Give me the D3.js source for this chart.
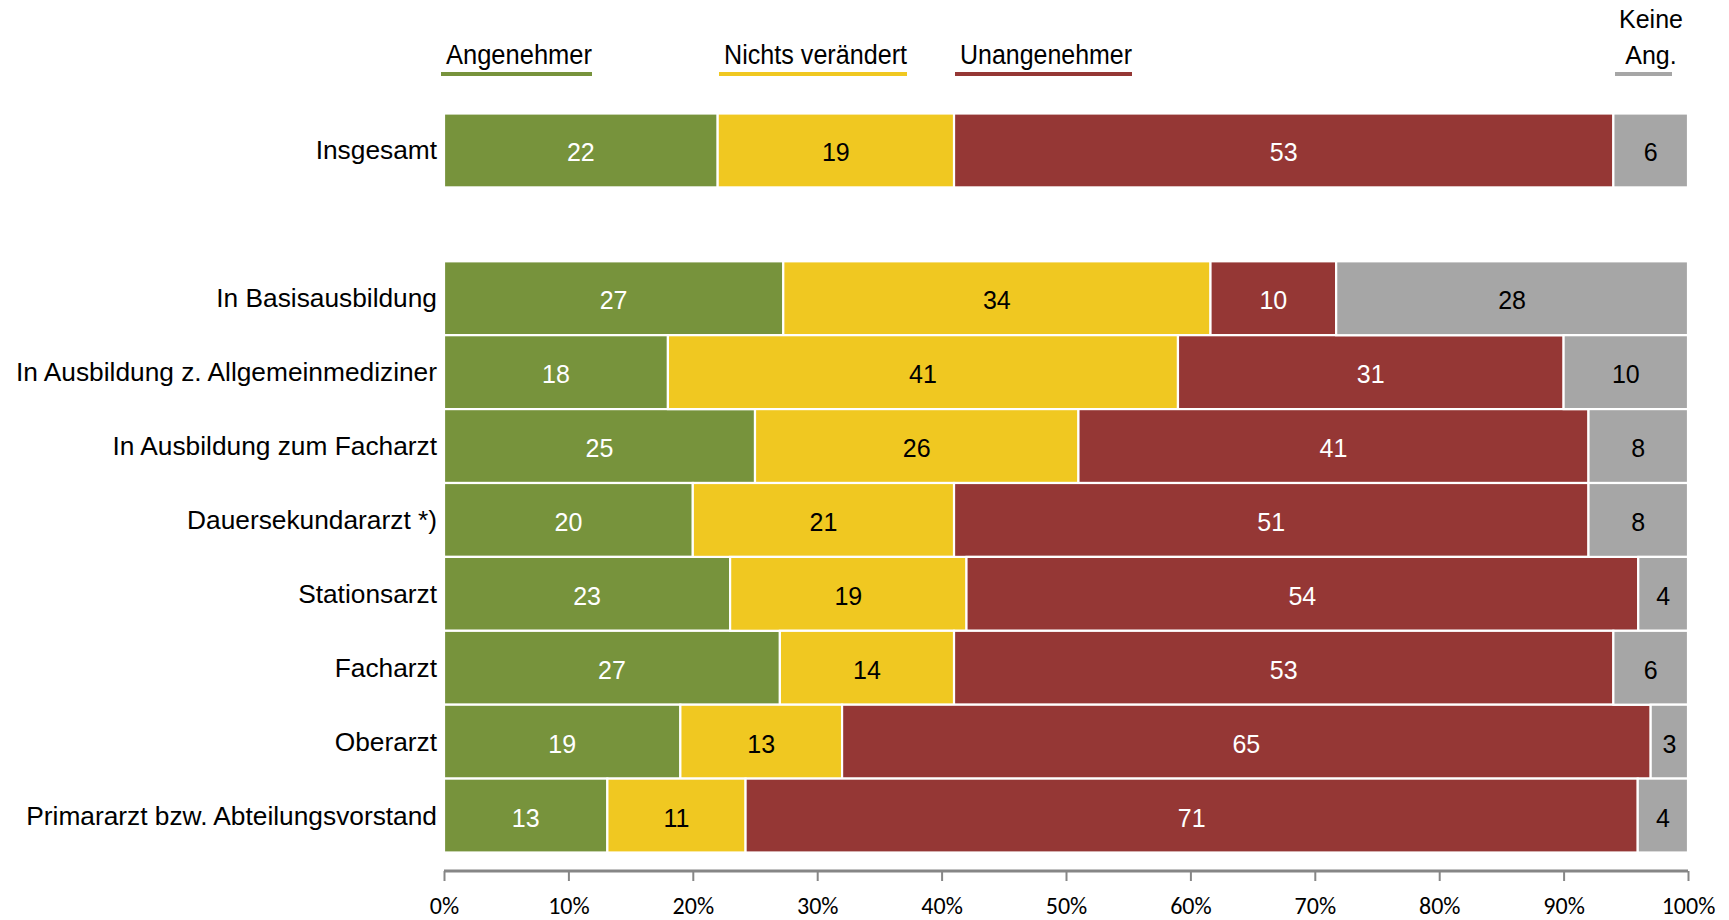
<!DOCTYPE html>
<html>
<head>
<meta charset="utf-8">
<script src="https://cdn.jsdelivr.net/npm/d3@7"></script>
<style>
	body { margin: 0; background: #fff; }
	svg { display: block; }
</style>
</head>
<body>
<div class="chart"></div>
<script>
// data (percent, each row is normalised to 100 %)
var categories = ["Insgesamt", "In Basisausbildung", "In Ausbildung z. Allgemeinmediziner",
	"In Ausbildung zum Facharzt", "Dauersekundararzt *)", "Stationsarzt", "Facharzt",
	"Oberarzt", "Primararzt bzw. Abteilungsvorstand"];
var angenehmer = [22, 27, 18, 25, 20, 23, 27, 19, 13];
var nichtsVeraendert = [19, 34, 41, 26, 21, 19, 14, 13, 11];
var unangenehmer = [53, 10, 31, 41, 51, 54, 53, 65, 71];
var keineAngabe = [6, 28, 10, 8, 8, 4, 6, 3, 4];
var seriesNames = ["Angenehmer", "Nichts verändert", "Unangenehmer", "Keine Ang."];
var xTicks = [0, 0.1, 0.2, 0.3, 0.4, 0.5, 0.6, 0.7, 0.8, 0.9, 1];

var W = 1729, H = 920;
var colors = { "Angenehmer": "#77933c", "Nichts verändert": "#f0c821", "Unangenehmer": "#953735", "Keine Ang.": "#a6a6a6" };
var labelColors = { "Angenehmer": "#fff", "Nichts verändert": "#000", "Unangenehmer": "#fff", "Keine Ang.": "#000" };

var svg = d3.select(".chart").append("svg")
	.attr("width", W)
	.attr("height", H);

var rows = categories.map(function (c, i) {
	return {
		cat: c,
		"Angenehmer": angenehmer[i],
		"Nichts verändert": nichtsVeraendert[i],
		"Unangenehmer": unangenehmer[i],
		"Keine Ang.": keineAngabe[i]
	};
});

// one empty slot between "Insgesamt" and the rest
var rowKeys = [categories[0], "__gap"].concat(categories.slice(1));

var x = d3.scaleLinear().domain([0, 1]).range([444, 1688]);
var y = d3.scaleBand().domain(rowKeys).range([113.5, 852.5]).padding(0);

var stacked = d3.stack()
	.keys(seriesNames)
	.offset(d3.stackOffsetExpand)(rows);

var layer = svg.selectAll(".layer")
	.data(stacked)
	.enter().append("g")
	.attr("class", "layer");

layer.selectAll("rect")
	.data(function (s) { return s.map(function (d) { d.key = s.key; return d; }); })
	.enter().append("rect")
	.attr("x", function (d) { return x(d[0]); })
	.attr("y", function (d) { return y(d.data.cat); })
	.attr("width", function (d) { return x(d[1]) - x(d[0]); })
	.attr("height", y.bandwidth())
	.attr("fill", function (d) { return colors[d.key]; })
	.attr("stroke", "#fff")
	.attr("stroke-width", 2.2);

layer.selectAll("text")
	.data(function (s) { return s; })
	.enter().append("text")
	.attr("x", function (d) { return (x(d[0]) + x(d[1])) / 2; })
	.attr("y", function (d) { return y(d.data.cat) + y.bandwidth() / 2 + 11; })
	.attr("text-anchor", "middle")
	.style("font-family", "'Liberation Sans', Arial, sans-serif")
	.style("font-size", "25px")
	.attr("fill", function (d) { return labelColors[d.key]; })
	.text(function (d) { return d.data[d.key]; });

// category labels
svg.append("g").selectAll("text")
	.data(categories)
	.enter().append("text")
	.attr("x", 437)
	.attr("y", function (d) { return y(d) + y.bandwidth() / 2 + 9; })
	.attr("text-anchor", "end")
	.style("font-family", "'Liberation Sans', Arial, sans-serif")
	.style("font-size", "26.3px")
	.attr("fill", "#000")
	.text(function (d) { return d; });

// x axis
var xAxis = d3.axisBottom(x)
	.tickValues(xTicks)
	.tickFormat(d3.format(".0%"))
	.tickSize(10)
	.tickPadding(16);

var gx = svg.append("g")
	.attr("class", "x axis")
	.attr("transform", "translate(0,871)")
	.call(xAxis);
gx.select(".domain").attr("stroke", "#868686").attr("stroke-width", 3).attr("d", "M444,0H1688");
gx.selectAll(".tick line").attr("stroke", "#868686").attr("stroke-width", 2);
gx.selectAll(".tick text")
	.style("font-family", "Carlito, Lato, 'Open Sans', sans-serif")
	.style("font-size", "24px")
	.attr("fill", "#000");

// legend: label with a coloured underline
var legendItems = [
	{ name: "Angenehmer", x0: 441, x1: 592, lines: ["Angenehmer"], narrow: true },
	{ name: "Nichts verändert", x0: 719, x1: 907, lines: ["Nichts verändert"], narrow: true },
	{ name: "Unangenehmer", x0: 955, x1: 1132, lines: ["Unangenehmer"], narrow: true },
	{ name: "Keine Ang.", x0: 1615, x1: 1672, lines: ["Keine", "Ang."], narrow: false }
];

var legend = svg.append("g").attr("class", "legend");
legendItems.forEach(function (it) {
	var g = legend.append("g");
	g.append("rect")
		.attr("x", it.x0)
		.attr("y", 72)
		.attr("width", it.x1 - it.x0)
		.attr("height", 4)
		.attr("fill", colors[it.name]);
	if (it.narrow) {
		g.append("text")
			.attr("x", it.x0 + 5)
			.attr("y", 64)
			.attr("textLength", it.x1 - it.x0 - 5)
			.attr("lengthAdjust", "spacingAndGlyphs")
			.style("font-family", "'Liberation Sans Narrow', 'Liberation Sans', Arial, sans-serif")
			.style("font-size", "27px")
			.text(it.lines[0]);
	} else {
		it.lines.forEach(function (l, i) {
			g.append("text")
				.attr("x", 1651)
				.attr("y", 28 + i * 36)
				.attr("text-anchor", "middle")
				.style("font-family", "'Liberation Sans', Arial, sans-serif")
				.style("font-size", "25px")
				.text(l);
		});
	}
});
</script>
</body>
</html>
